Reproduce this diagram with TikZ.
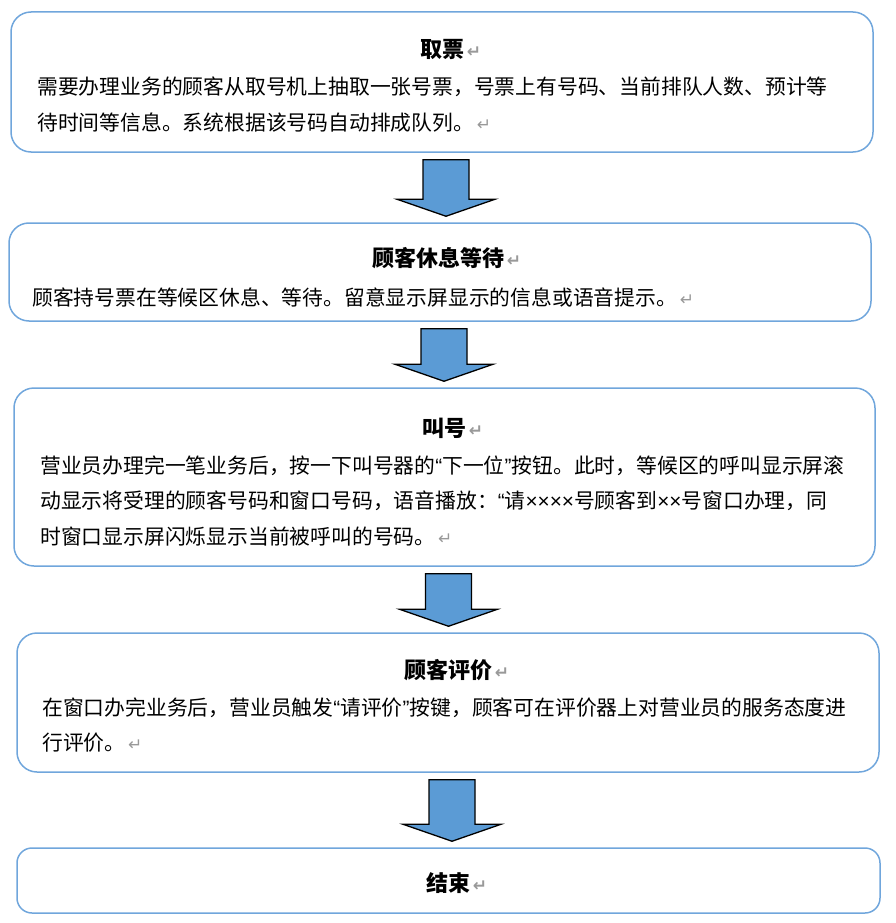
\documentclass[tikz,border=0pt]{standalone}
\usepackage{fontspec}
\newfontfamily\cjkfont{Noto Sans CJK SC}
\newfontfamily\markfont{DejaVu Sans}
\newfontfamily\latinfont{Liberation Sans}
\usetikzlibrary{calc}

\definecolor{boxblue}{RGB}{112,166,220}
\definecolor{arrowblue}{RGB}{91,155,213}

% stretchable glue between CJK characters, so that full lines can be justified
\XeTeXinterchartokenstate=1
\XeTeXinterchartoks 1 1={\hskip 0pt plus 2pt minus 0.5pt\relax}
\XeTeXinterchartoks 3 1={\hskip 0pt plus 2pt minus 0.5pt\relax}
\XeTeXinterchartoks 1 2={\hskip 0pt plus 2pt minus 0.5pt\relax}
\XeTeXinterchartoks 3 2={\hskip 0pt plus 2pt minus 0.5pt\relax}

\newcommand{\pmark}{{\markfont\color{gray!80}\fontsize{17}{17}\selectfont\,↵}}
\newcommand{\narrow}[1]{{\latinfont #1}}

\begin{document}
\begin{tikzpicture}[
  x=1pt,y=-1pt,
  stepbox/.style={draw=boxblue,line width=1.5pt,rounded corners=20pt,minimum width=862pt},
  titletext/.style={anchor=base,inner sep=0pt,font=\cjkfont\bfseries\fontsize{22}{26}\selectfont},
  bodytext/.style={anchor=base west,inner sep=0pt,align=justify,font=\cjkfont\fontsize{20.8}{35.5}\selectfont},
  blockarrow/.style={draw=black,line width=1.3pt,line join=miter,fill=arrowblue,
    to path={let \p1=(\tikztostart),\p2=(\tikztotarget) in
      (\x1-19pt,\y1-7pt) -- (\x1+27pt,\y1-7pt) -- (\x1+27pt,\y2+23pt) -- (\x1+53pt,\y2+23pt)
      -- (\x1+4pt,\y2+6pt) -- (\x1-45pt,\y2+23pt) -- (\x1-19pt,\y2+23pt) -- cycle}}
]
  \useasboundingbox (0,0) rectangle (895,923);

  % boxes
  \node[stepbox,minimum height=140pt] (take) at (442,82) {};
  \node[stepbox,minimum height=98pt] (wait) at (440,272) {};
  \node[stepbox,minimum height=178pt,minimum width=861pt] (call) at (444.5,477) {};
  \node[stepbox,minimum height=139pt] (rate) at (448,702.5) {};
  \node[stepbox,minimum height=65pt,rounded corners=15pt,minimum width=863pt] (finish) at (448.5,880.5) {};

  % texts
  \node[titletext] (taketitle) at (442,58) {取票\rlap{\pmark}};
  \node[bodytext,text width=791pt] (takebody) at (37,95)
    {需要办理业务的顾客从取号机上抽取一张号票，号票上有号码、当前排队人数、预计等\linebreak
     待时间等信息。系统根据该号码自动排成队列。\pmark};

  \node[titletext] (waittitle) at (438,266) {顾客休息等待\rlap{\pmark}};
  \node[bodytext,text width=820pt] (waitbody) at (32,305)
    {顾客持号票在等候区休息、等待。留意显示屏显示的信息或语音提示。\pmark};

  \node[titletext] (calltitle) at (444,436) {叫号\rlap{\pmark}};
  \node[bodytext,text width=808pt] (callbody) at (40,473)
    {营业员办理完一笔业务后，按一下叫号器的\narrow{“}下一位\narrow{”}按钮。此时，等候区的呼叫显示屏滚\linebreak
     动显示将受理的顾客号码和窗口号码，语音播放：\narrow{“}请\narrow{××××}号顾客到\narrow{××}号窗口办理，同\linebreak
     时窗口显示屏闪烁显示当前被呼叫的号码。\pmark};

  \node[titletext] (ratetitle) at (448,678) {顾客评价\rlap{\pmark}};
  \node[bodytext,text width=811pt] (ratebody) at (42,715)
    {在窗口办完业务后，营业员触发\narrow{“}请评价\narrow{”}按键，顾客可在评价器上对营业员的服务态度进\linebreak
     行评价。\pmark};

  \node[titletext] (finishtitle) at (448,891) {结束\rlap{\pmark}};

  % arrows
  \draw[blockarrow] (take.south) to (wait.north);
  \draw[blockarrow] (wait.south) to (call.north);
  \draw[blockarrow] (call.south) to (rate.north);
  \draw[blockarrow] (rate.south) to (finish.north);
\end{tikzpicture}
\end{document}
